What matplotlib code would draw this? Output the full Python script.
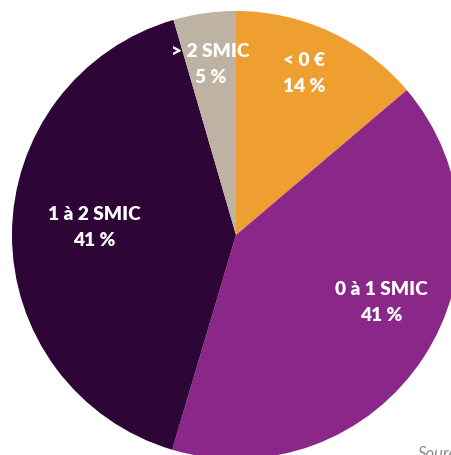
import matplotlib as mpl
mpl.use('Agg')
import matplotlib.pyplot as plt
import numpy as np

# Data (clockwise from 12 o'clock)
categories  = ["< 0 €", "0 à 1 SMIC", "1 à 2 SMIC", "> 2 SMIC"]
shares      = [13.8, 40.8, 40.9, 4.5]
pct_labels  = ["14 %", "41 %", "41 %", "5 %"]
colors      = ["#EF9E30", "#8C278A", "#2D0536", "#BEB3A2"]

# label placement: distance (fraction of radius) and clockwise shift from bisector
label_dist  = [0.785, 0.714, 0.635, 0.775]
label_shift = [-2.0, -8.7, 3.4, -0.4]

W, H = 451, 456
fig = plt.figure(figsize=(W / 100, H / 100), dpi=100)
ax  = fig.add_axes([0, 0, 1, 1])

cx, cy, r = 236, H - 236, 224
wedges, _ = ax.pie(shares, colors=colors, startangle=90, counterclock=False,
                   center=(cx, cy), radius=r, frame=True,
                   wedgeprops=dict(linewidth=0))
ax.set_xlim(0, W)
ax.set_ylim(0, H)
ax.set_aspect('equal')
ax.axis('off')

for w, cat, pct, d, s in zip(wedges, categories, pct_labels, label_dist, label_shift):
    ang = np.deg2rad((w.theta1 + w.theta2) / 2 - s)
    x = cx + d * r * np.cos(ang)
    y = cy + d * r * np.sin(ang)
    ax.text(x, y, cat + "\n" + pct, ha='center', va='center', color='white',
            fontsize=13.8, fontweight='heavy', family='Lato', linespacing=1.65)

# source note, cut by the right edge as in the original
ax.text(418, -3, "Source", ha='left', va='baseline', color='#8C8C8C',
        fontsize=12, style='italic', family='Lato')

fig.savefig("out.png", dpi=100)
